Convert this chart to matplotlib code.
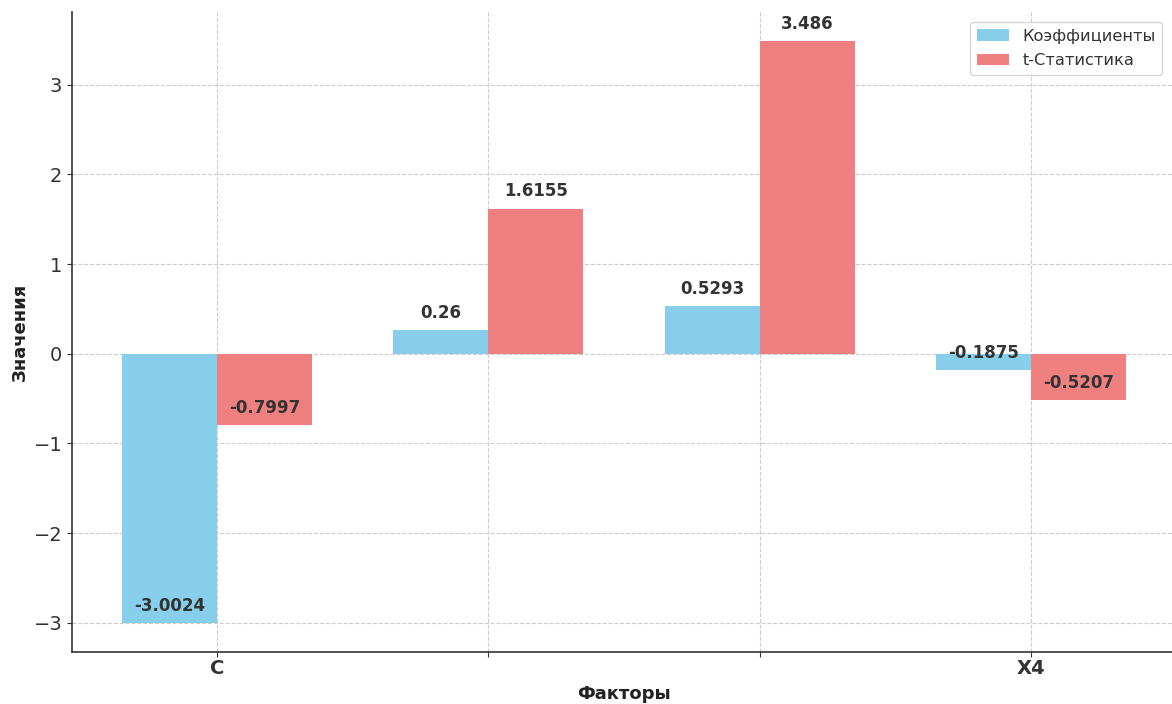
import matplotlib
matplotlib.use("Agg")
import matplotlib.pyplot as plt
import numpy as np

categories = ['C', 'X1', 'X2', 'X4']
tick_labels = ['C', '', '', 'X4']
coefficients = [-3.0024, 0.26, 0.5293, -0.1875]
t_stats = [-0.7997, 1.6155, 3.486, -0.5207]
series_names = ['Коэффициенты', 't-Статистика']

plt.rcParams['font.family'] = ['DejaVu Sans']
fig = plt.figure(figsize=(11.72, 7.04), dpi=100)
W, H = 1172, 704
ax = fig.add_axes([72 / W, (H - 652) / H, (1176 - 72) / W, (652 - 12) / H])

x = np.arange(len(categories))
w = 0.35
b1 = ax.bar(x - w / 2, coefficients, w, color='skyblue', label=series_names[0], zorder=3)
b2 = ax.bar(x + w / 2, t_stats, w, color='lightcoral', label=series_names[1], zorder=3)

for bars in (b1, b2):
    for r in bars:
        h = r.get_height()
        ax.annotate(f'{h}', xy=(r.get_x() + r.get_width() / 2, h), xytext=(0, 6),
                    textcoords='offset points', ha='center', va='bottom',
                    fontsize=12, fontweight='bold', color='#333333', zorder=4)

ax.set_xticks(x)
ax.set_xticklabels(tick_labels, fontsize=14, fontweight='bold', color='#222222')
ax.tick_params(axis='y', labelsize=14, labelcolor='#333333', colors='#333333')
ax.tick_params(axis='x', colors='#333333', pad=1.5)
ax.set_xlabel('Факторы', fontsize=13, fontweight='bold', color='#222222', labelpad=5)
ax.set_ylabel('Значения', fontsize=13, fontweight='bold', color='#222222', labelpad=3)
ax.grid(True, linestyle='--', color='#cccccc', linewidth=0.8, zorder=0)
ax.spines['top'].set_visible(False)
ax.spines['right'].set_visible(False)
for s in ('left', 'bottom'):
    ax.spines[s].set_color('#333333')
    ax.spines[s].set_linewidth(1.2)
ax.legend(loc='upper right', fontsize=11.7, frameon=True, edgecolor='#cccccc',
          labelcolor='#333333', bbox_to_anchor=(0.995, 0.997), labelspacing=0.6)

fig.savefig('out.png', dpi=100)
